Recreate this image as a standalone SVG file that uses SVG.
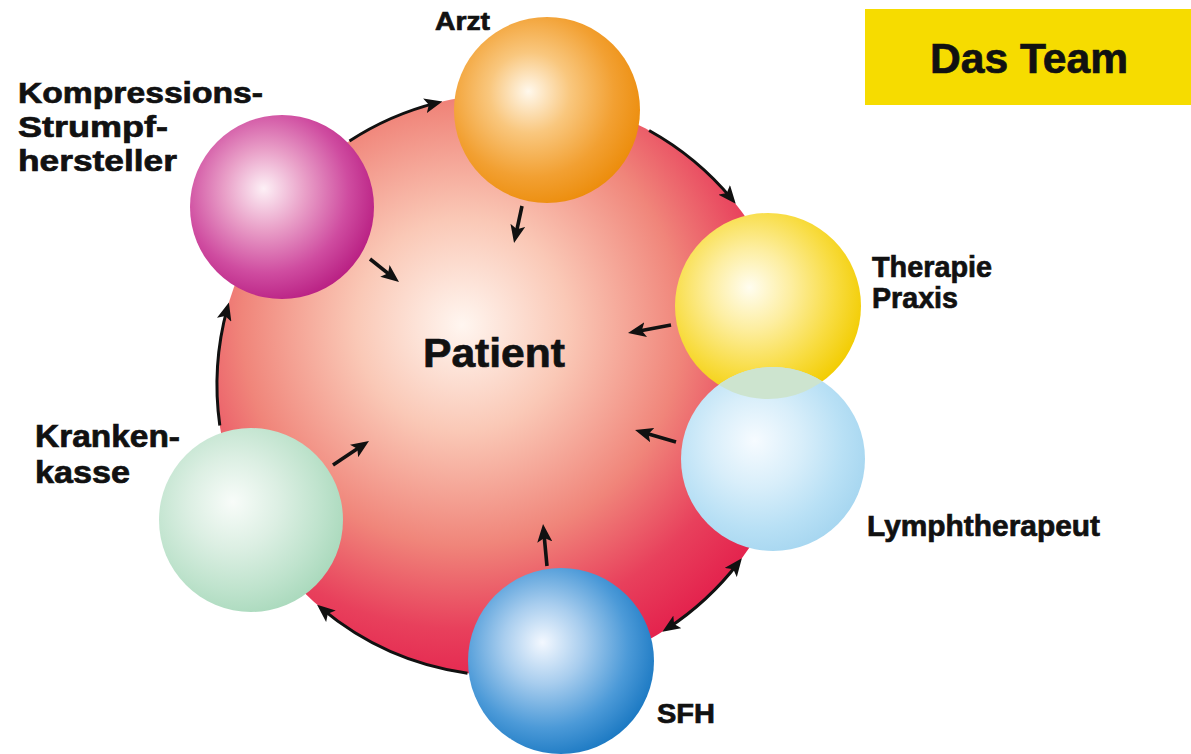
<svg xmlns="http://www.w3.org/2000/svg" width="1191" height="754" viewBox="0 0 1191 754">
<defs>
<style>
.lbl{font-family:"Liberation Sans",Arial,sans-serif;font-weight:bold;fill:#111;stroke:#111;stroke-width:0.7;}
.arc{fill:none;stroke:#111;stroke-width:3;}
.arr{fill:none;stroke:#111;stroke-width:3.6;marker-end:url(#ah);}
</style>
<marker id="ah" viewBox="0 0 18 15" markerWidth="18" markerHeight="15" refX="12" refY="7.5" orient="auto-start-reverse" markerUnits="userSpaceOnUse">
<path d="M0,0 L18,7.5 L0,15 L4,7.5 z" fill="#111"/>
</marker>
<radialGradient id="gPat" gradientUnits="userSpaceOnUse" cx="462" cy="325" r="380" fx="462" fy="325">
<stop offset="0" stop-color="#fff6f0"/>
<stop offset="0.28" stop-color="#fac8b6"/>
<stop offset="0.58" stop-color="#f0857a"/>
<stop offset="0.8" stop-color="#e8405c"/>
<stop offset="1" stop-color="#e31c4a"/>
</radialGradient>
<radialGradient id="gOr" cx="0.42" cy="0.42" r="0.62" fx="0.4" fy="0.4">
<stop offset="0" stop-color="#fff8ec"/><stop offset="0.35" stop-color="#f9c77e"/><stop offset="0.72" stop-color="#f2a032"/><stop offset="1" stop-color="#ec8c0a"/>
</radialGradient>
<radialGradient id="gMa" cx="0.42" cy="0.42" r="0.62" fx="0.4" fy="0.4">
<stop offset="0" stop-color="#fdf0f6"/><stop offset="0.35" stop-color="#e9a0c8"/><stop offset="0.72" stop-color="#cf4ca0"/><stop offset="1" stop-color="#b81e82"/>
</radialGradient>
<radialGradient id="gYe" cx="0.42" cy="0.42" r="0.62" fx="0.4" fy="0.4">
<stop offset="0" stop-color="#fffdf0"/><stop offset="0.35" stop-color="#fdeea0"/><stop offset="0.72" stop-color="#f8dc40"/><stop offset="1" stop-color="#f2cc00"/>
</radialGradient>
<radialGradient id="gLb" cx="0.42" cy="0.42" r="0.62" fx="0.4" fy="0.4">
<stop offset="0" stop-color="#f6fbff"/><stop offset="0.4" stop-color="#d8eefa"/><stop offset="0.75" stop-color="#b8e0f5"/><stop offset="1" stop-color="#a6d6f0"/>
</radialGradient>
<radialGradient id="gGr" cx="0.42" cy="0.42" r="0.62" fx="0.4" fy="0.4">
<stop offset="0" stop-color="#f8fcf9"/><stop offset="0.4" stop-color="#dcefe3"/><stop offset="0.75" stop-color="#bfe3cd"/><stop offset="1" stop-color="#a9d9bc"/>
</radialGradient>
<radialGradient id="gBl" cx="0.42" cy="0.42" r="0.62" fx="0.4" fy="0.4">
<stop offset="0" stop-color="#f3f8ff"/><stop offset="0.35" stop-color="#a8cdee"/><stop offset="0.72" stop-color="#4c9ad8"/><stop offset="1" stop-color="#1a78c2"/>
</radialGradient>
<clipPath id="clipT"><circle cx="768" cy="306" r="93"/></clipPath>
</defs>
<rect width="1191" height="754" fill="#ffffff"/>

<g id="patient">
<circle cx="508" cy="385" r="291" fill="url(#gPat)"/>
<text class="lbl" x="423" y="367" font-size="41" textLength="142" lengthAdjust="spacingAndGlyphs">Patient</text>
</g>

<g id="connectors">
<path class="arc" d="M349.5,141 A291,291 0 0 1 436.6,102.9" marker-end="url(#ah)"/>
<path class="arc" d="M649.1,130.5 A291,291 0 0 1 731.9,199.1" marker-end="url(#ah)"/>
<path class="arc" d="M667.4,628.5 A291,291 0 0 0 738.2,563" marker-start="url(#ah)" marker-end="url(#ah)"/>
<path class="arc" d="M467.5,673.2 A291,291 0 0 1 321.7,608.6" marker-end="url(#ah)"/>
<path class="arc" d="M219.8,425.5 A291,291 0 0 1 227.3,308.2" marker-end="url(#ah)"/>
<path class="arr" d="M522,206 L515.3,237.1"/>
<path class="arr" d="M370,259 L394.3,278.3"/>
<path class="arr" d="M671,325 L633.9,331.9"/>
<path class="arr" d="M676,442 L640.8,431.7"/>
<path class="arr" d="M547,566 L543.6,530"/>
<path class="arr" d="M333,465 L364,444.3"/>
</g>

<g id="arzt">
<circle cx="547" cy="110" r="93" fill="url(#gOr)"/>
<text class="lbl" x="435" y="30" font-size="25" textLength="55" lengthAdjust="spacingAndGlyphs">Arzt</text>
</g>

<g id="kompressions">
<circle cx="282" cy="207" r="92" fill="url(#gMa)"/>
<text class="lbl" x="18" y="103" font-size="30" textLength="245" lengthAdjust="spacingAndGlyphs">Kompressions-</text>
<text class="lbl" x="18" y="137" font-size="30" textLength="150" lengthAdjust="spacingAndGlyphs">Strumpf-</text>
<text class="lbl" x="18" y="171" font-size="30" textLength="159" lengthAdjust="spacingAndGlyphs">hersteller</text>
</g>

<g id="therapie">
<circle cx="768" cy="306" r="93" fill="url(#gYe)"/>
<text class="lbl" x="872" y="277" font-size="29" textLength="120" lengthAdjust="spacingAndGlyphs">Therapie</text>
<text class="lbl" x="872" y="308" font-size="29" textLength="86" lengthAdjust="spacingAndGlyphs">Praxis</text>
</g>

<g id="lymph">
<circle cx="773" cy="459" r="92" fill="url(#gLb)"/>
<circle cx="773" cy="459" r="92" fill="#cde4cf" clip-path="url(#clipT)"/>
<text class="lbl" x="867" y="536" font-size="29.5" textLength="233" lengthAdjust="spacingAndGlyphs">Lymphtherapeut</text>
</g>

<g id="krankenkasse">
<circle cx="251" cy="520" r="92" fill="url(#gGr)"/>
<text class="lbl" x="35" y="447" font-size="30.5" textLength="145" lengthAdjust="spacingAndGlyphs">Kranken-</text>
<text class="lbl" x="35" y="483" font-size="30.5" textLength="95" lengthAdjust="spacingAndGlyphs">kasse</text>
</g>

<g id="sfh">
<circle cx="561" cy="661" r="93" fill="url(#gBl)"/>
<text class="lbl" x="657" y="723" font-size="28" textLength="58" lengthAdjust="spacingAndGlyphs">SFH</text>
</g>

<g id="title">
<rect x="865" y="9" width="326" height="96" fill="#f6dc00"/>
<text class="lbl" x="930" y="73" font-size="42" textLength="198" lengthAdjust="spacingAndGlyphs">Das Team</text>
</g>
</svg>
